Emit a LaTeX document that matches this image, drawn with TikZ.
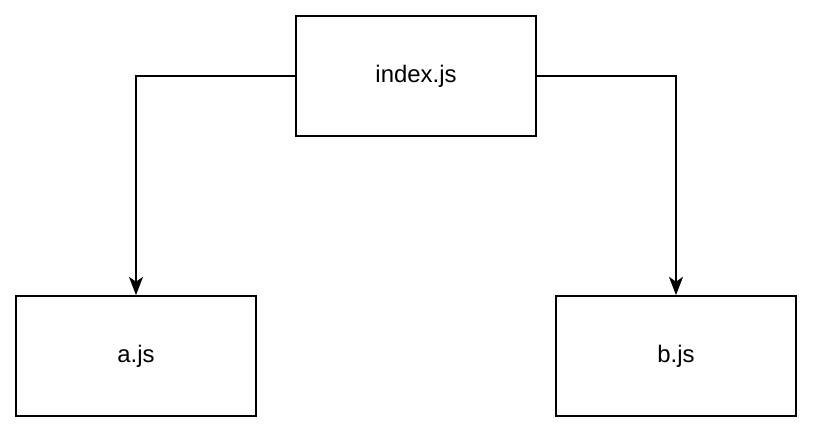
\documentclass[tikz,border=0pt]{standalone}
\usepackage{fontspec}
\setmainfont{Liberation Sans}
\usetikzlibrary{arrows.meta,positioning}

\tikzset{
  filebox/.style={draw, line width=1.3pt, minimum width=6cm, minimum height=3cm, font=\fontsize{17}{20}\selectfont},
  dep/.style={line width=1.3pt, -{Stealth[length=13pt,width=10pt,inset=3.5pt]}}
}

\begin{document}
\begin{tikzpicture}
        \useasboundingbox (0,0) rectangle (20.35,-10.85);

        \node[filebox] (index) at (10.4,-1.9) {index.js};
        \node[filebox] (a) at (3.4,-8.9) {a.js};
        \node[filebox] (b) at (16.9,-8.9) {b.js};

        \draw[dep] (index.west) -| (a.north);
        \draw[dep] (index.east) -| (b.north);
      \end{tikzpicture}
\end{document}
